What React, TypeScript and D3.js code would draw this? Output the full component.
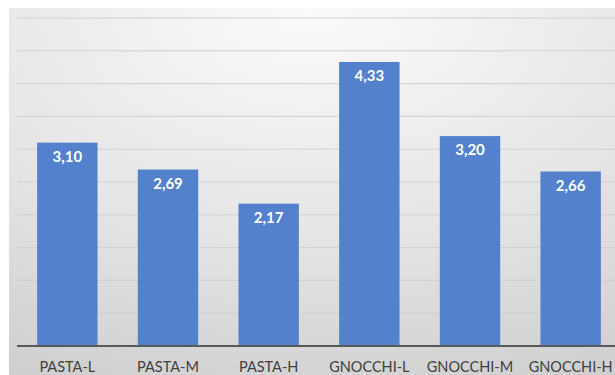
import React from "react";
import * as d3 from "d3";

const categories = ["PASTA-L", "PASTA-M", "PASTA-H", "GNOCCHI-L", "GNOCCHI-M", "GNOCCHI-H"];
const values = [3.1, 2.69, 2.17, 4.33, 3.2, 2.66];
const valueLabels = ["3,10", "2,69", "2,17", "4,33", "3,20", "2,66"];
const yTicks = [0, 0.5, 1, 1.5, 2, 2.5, 3, 3.5, 4, 4.5, 5];

const W = 615;
const H = 375;
const plot = { left: 17, right: 621, top: 18, bottom: 346 };

export default function App() {
  const x = d3
    .scaleBand<string>()
    .domain(categories)
    .range([plot.left, plot.right])
    .paddingInner(0.4)
    .paddingOuter(0.2);
  const y = d3.scaleLinear().domain([0, 5]).range([plot.bottom, plot.top]);

  return (
    <svg
      width={W}
      height={H}
      style={{ position: "absolute", left: 0, top: 0, background: "#ffffff" }}
      fontFamily="Lato, 'Open Sans', sans-serif"
    >
      <defs>
        <radialGradient id="bg" cx="50%" cy="0%" r="110%" fx="50%" fy="0%">
          <stop offset="0%" stopColor="#fbfbfb" />
          <stop offset="55%" stopColor="#e6e6e6" />
          <stop offset="100%" stopColor="#cfcfcf" />
        </radialGradient>
      </defs>
      <rect x={9} y={8} width={W - 9} height={H - 8} fill="url(#bg)" />
      {yTicks.slice(1).map((t) => (
        <line
          key={t}
          x1={plot.left}
          x2={W}
          y1={y(t)}
          y2={y(t)}
          stroke="#cfcfcf"
          strokeWidth={1}
        />
      ))}
      {categories.map((c, i) => (
        <g key={c}>
          <rect
            x={x(c)}
            y={y(values[i])}
            width={x.bandwidth()}
            height={y(0) - y(values[i])}
            fill="#5381cc"
          />
          <text
            x={(x(c) as number) + x.bandwidth() / 2}
            y={y(values[i]) + 19}
            textAnchor="middle"
            fill="#ffffff"
            fontWeight="bold"
            fontSize={15}
          >
            {valueLabels[i]}
          </text>
          <text
            x={(x(c) as number) + x.bandwidth() / 2}
            y={372}
            textAnchor="middle"
            fill="#404040"
            fontSize={14.5}
          >
            {c}
          </text>
        </g>
      ))}
      <line x1={plot.left} x2={W} y1={y(0)} y2={y(0)} stroke="#595959" strokeWidth={2} />
    </svg>
  );
}
